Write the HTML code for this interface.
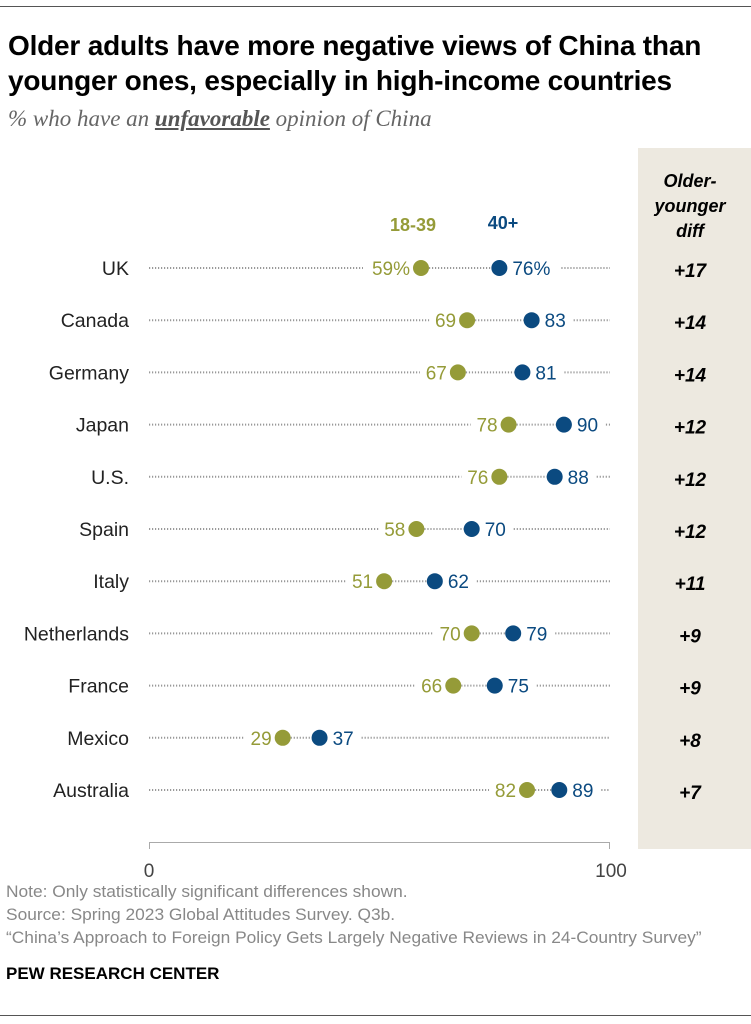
<!DOCTYPE html>
<html><head><meta charset="utf-8"><style>
body{margin:0;width:751px;height:1024px;background:#fff;font-family:"Liberation Sans",sans-serif;position:relative;overflow:hidden}
.t{position:absolute;left:8px;top:28px;font-size:28px;font-weight:bold;line-height:35px;color:#000;letter-spacing:-0.2px;white-space:nowrap}
.sub{position:absolute;left:8px;top:106px;font-family:"Liberation Serif",serif;font-style:italic;font-size:23px;color:#666;white-space:nowrap}
.sub b{text-decoration:underline;color:#555}
.ft{position:absolute;left:6px;font-size:17px;color:#888;white-space:nowrap;transform:scaleX(1.02);transform-origin:left}
</style></head><body>
<div style="position:absolute;left:0;top:6px;width:751px;height:1px;background:#555"></div>
<div style="position:absolute;left:0;top:1015px;width:751px;height:1px;background:#555"></div>
<div class="t">Older adults have more negative views of China than<br>younger ones, especially in high-income countries</div>
<div class="sub">% who have an <b>unfavorable</b> opinion of China</div>
<svg id="s" width="751" height="1024" style="position:absolute;left:0;top:0"></svg>
<div class="ft" style="top:882px">Note: Only statistically significant differences shown.</div>
<div class="ft" style="top:905px">Source: Spring 2023 Global Attitudes Survey. Q3b.</div>
<div class="ft" style="top:928px">“China’s Approach to Foreign Policy Gets Largely Negative Reviews in 24-Country Survey”</div>
<div class="ft" style="top:964px;color:#000;font-weight:bold;font-size:17px;transform:none">PEW RESEARCH CENTER</div>
<script>
var d=[["UK",59,76],["Canada",69,83],["Germany",67,81],["Japan",78,90],["U.S.",76,88],["Spain",58,70],["Italy",51,62],["Netherlands",70,79],["France",66,75],["Mexico",29,37],["Australia",82,89]];
var G="#959b38",B="#0b4a80",h='';
h+='<rect x="638" y="148" width="113" height="701" fill="#ede9e0"/>';
h+='<text x="690" y="187" font-size="18" font-weight="bold" font-style="italic" text-anchor="middle">Older-</text><text x="690" y="212" font-size="18" font-weight="bold" font-style="italic" text-anchor="middle">younger</text><text x="690" y="237" font-size="18" font-weight="bold" font-style="italic" text-anchor="middle">diff</text>';
h+='<text x="413" y="231" font-size="18" font-weight="bold" fill="'+G+'" text-anchor="middle">18-39</text><text x="503" y="229" font-size="18" font-weight="bold" fill="'+B+'" text-anchor="middle">40+</text>';
function X(v){return 149+v*4.61}
function ln(a,b,y){if(b>a)h+='<line x1="'+a+'" y1="'+y+'" x2="'+b+'" y2="'+y+'" stroke="#999" stroke-width="2" stroke-dasharray="1.2 1.8"/>'}
d.forEach(function(r,i){
var y=268+i*52.2,g=X(r[1]),b=X(r[2]),p=i==0?'%':'';
var w=p?42:22;
ln(149,g-10-w-6,y);ln(g+8,b-8,y);ln(b+12+w+8,610,y);
h+='<text x="129" y="'+(y+7)+'" font-size="19.5" text-anchor="end" fill="#222">'+r[0]+'</text>';
h+='<text x="'+(g-11)+'" y="'+(y+7)+'" font-size="19" text-anchor="end" fill="'+G+'">'+r[1]+p+'</text>';
h+='<text x="'+(b+13)+'" y="'+(y+7)+'" font-size="19" fill="'+B+'">'+r[2]+p+'</text>';
h+='<circle cx="'+g+'" cy="'+y+'" r="8" fill="'+G+'"/><circle cx="'+b+'" cy="'+y+'" r="8" fill="'+B+'"/>';
h+='<text x="690" y="'+(y+9)+'" font-size="19" font-weight="bold" font-style="italic" text-anchor="middle">+'+(r[2]-r[1])+'</text>';
});
h+='<path d="M149.5 849V842.5H609.5V849" fill="none" stroke="#aaa" stroke-width="1"/>';
h+='<text x="149" y="877" font-size="19" text-anchor="middle" fill="#444">0</text><text x="611" y="877" font-size="19" text-anchor="middle" fill="#444">100</text>';
document.getElementById('s').innerHTML=h;
</script>
</body></html>
